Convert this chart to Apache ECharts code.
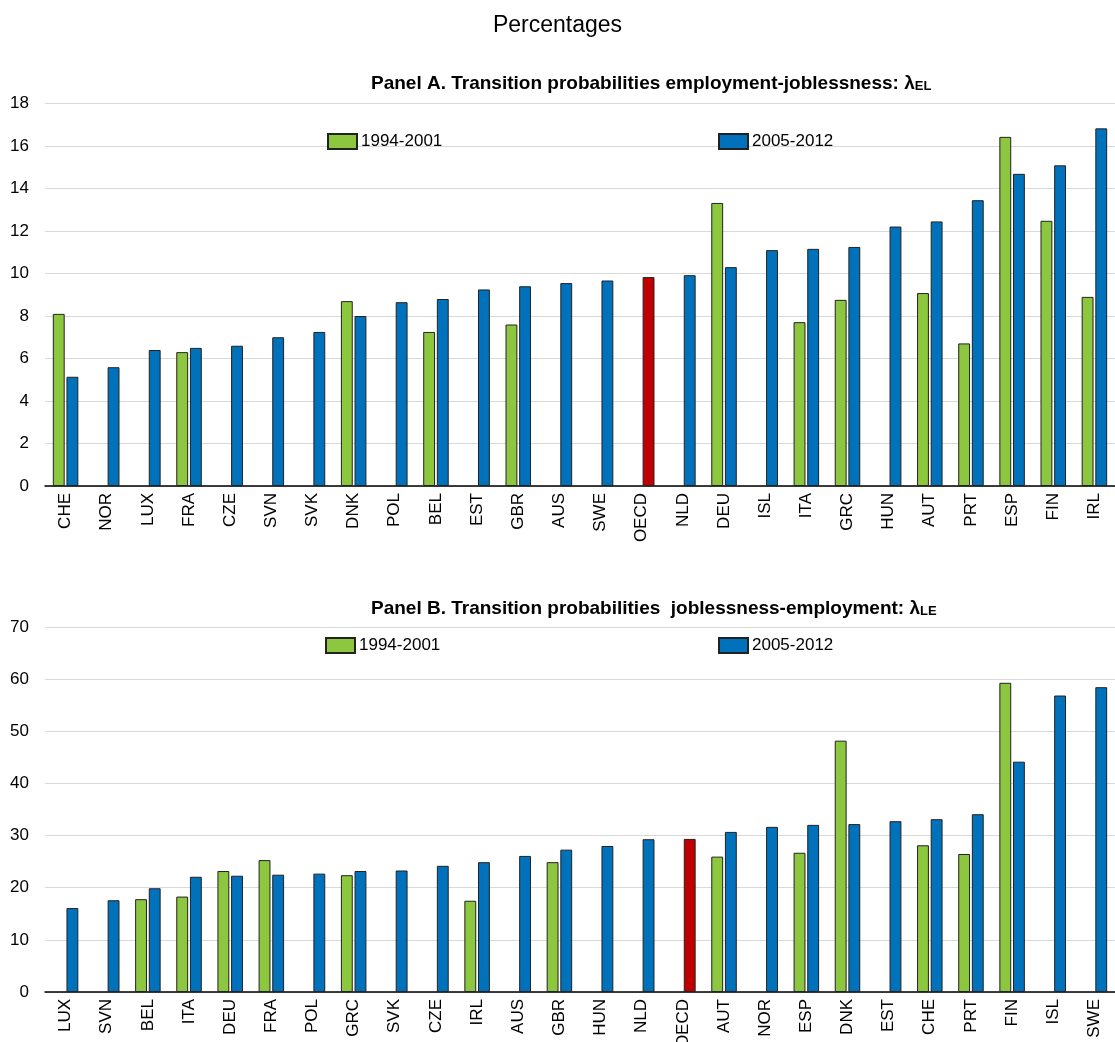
<!DOCTYPE html>
<html>
<head>
<meta charset="utf-8">
<script src="https://cdn.jsdelivr.net/npm/echarts@6/dist/echarts.min.js"></script>
<style>
html,body{margin:0;padding:0;background:#fff;}
#c{width:1115px;height:1042px;}
</style>
</head>
<body>
<div id="c"></div>
<script>
// Panel A: employment -> joblessness
const catsA = ['CHE','NOR','LUX','FRA','CZE','SVN','SVK','DNK','POL','BEL','EST','GBR','AUS','SWE','OECD','NLD','DEU','ISL','ITA','GRC','HUN','AUT','PRT','ESP','FIN','IRL'];
const earlyA = [8.1, null, null, 6.3, null, null, null, 8.7, null, 7.25, null, 7.6, null, null, null, null, 13.32, null, 7.71, 8.76, null, 9.08, 6.71, 16.43, 12.48, 8.9];
const lateA  = [5.14, 5.59, 6.4, 6.5, 6.6, 7.0, 7.25, 8.0, 8.65, 8.8, 9.25, 9.4, 9.55, 9.67, 9.83, 9.92, 10.3, 11.1, 11.16, 11.25, 12.21, 12.45, 13.45, 14.69, 15.09, 16.83];

// Panel B: joblessness -> employment
const catsB = ['LUX','SVN','BEL','ITA','DEU','FRA','POL','GRC','SVK','CZE','IRL','AUS','GBR','HUN','NLD','OECD','AUT','NOR','ESP','DNK','EST','CHE','PRT','FIN','ISL','SWE'];
const earlyB = [null, null, 17.8, 18.3, 23.2, 25.3, null, 22.4, null, null, 17.5, null, 24.9, null, null, null, 25.96, null, 26.7, 48.2, null, 28.14, 26.47, 59.3, null, null];
const lateB  = [16.1, 17.6, 19.9, 22.1, 22.3, 22.5, 22.7, 23.2, 23.3, 24.2, 24.9, 26.1, 27.3, 28.0, 29.3, 29.36, 30.7, 31.67, 32.05, 32.2, 32.76, 33.14, 34.1, 44.17, 56.86, 58.46];

const ticksA = {min: 0, max: 18, interval: 2};
const ticksB = {min: 0, max: 70, interval: 10};

const seriesNames = ['1994-2001', '2005-2012'];
const GREEN = '#8DC63F', BLUE = '#0072BC', RED = '#C00000';
const SANS = "'Liberation Sans',Arial,sans-serif";

function lateData(cats, vals){
  return vals.map((v,i)=> cats[i]==='OECD' ? {value:v, itemStyle:{color:RED}} : v);
}

const chart = echarts.init(document.getElementById('c'), null, {renderer:'canvas'});

const xAxisCommon = {
  type:'category',
  axisLine:{lineStyle:{color:'#000', width:1.5}},
  axisTick:{inside:true, length:5, lineStyle:{color:'#000', width:1.2}},
  axisLabel:{rotate:90, interval:0, margin:7, color:'#000', fontSize:17, fontFamily:SANS},
  splitLine:{show:false}
};
const yAxisCommon = {
  type:'value',
  axisLine:{show:false},
  axisTick:{show:false},
  axisLabel:{color:'#000', fontSize:17, fontFamily:SANS, margin:16},
  splitLine:{lineStyle:{color:'#d9d9d9', width:1.2}}
};
const barCommon = {
  type:'bar',
  barCategoryGap:'38%',
  barGap:'15%'
};
const titleRich = (label, sub) => ({
  text: '{m|' + label + '}{s|' + sub + '}',
  left: 366,
  textStyle:{
    rich:{
      m:{fontFamily:SANS, fontWeight:'bold', fontSize:19, color:'#000', verticalAlign:'bottom', lineHeight:22},
      s:{fontFamily:SANS, fontWeight:'bold', fontSize:13, color:'#000', verticalAlign:'bottom', lineHeight:19}
    }
  }
});

const tA = titleRich('Panel A. Transition probabilities employment-joblessness: λ', 'EL'); tA.top = 66;
const tB = titleRich('Panel B. Transition probabilities  joblessness-employment: λ', 'LE'); tB.top = 591;

const legendCommon = {
  orient:'horizontal', padding:0, itemWidth:29, itemHeight:15, itemGap:10,
  textStyle:{fontFamily:SANS, fontSize:17, color:'#000', padding:[0,0,0,-1]},
  icon:'rect', selectedMode:false
};

chart.setOption({
  animation:false,
  backgroundColor:'#fff',
  title:[
    {text:'Percentages', left:'center', top:9, textStyle:{fontFamily:SANS, fontWeight:'normal', fontSize:23, color:'#000'}},
    tA, tB
  ],
  legend:[
    Object.assign({}, legendCommon, {data:[seriesNames[0]], left:327, top:133}),
    Object.assign({}, legendCommon, {data:[seriesNames[1]], left:718, top:133}),
    Object.assign({}, legendCommon, {data:[seriesNames[0]], left:325, top:637}),
    Object.assign({}, legendCommon, {data:[seriesNames[1]], left:718, top:637})
  ],
  grid:[
    {left:45, right:0, top:103.5, height:382.5, containLabel:false, outerBoundsMode:'none'},
    {left:45, right:0, top:627, height:365, containLabel:false, outerBoundsMode:'none'}
  ],
  xAxis:[
    Object.assign({}, xAxisCommon, {gridIndex:0, data:catsA}),
    Object.assign({}, xAxisCommon, {gridIndex:1, data:catsB})
  ],
  yAxis:[
    Object.assign({}, yAxisCommon, {gridIndex:0}, ticksA),
    Object.assign({}, yAxisCommon, {gridIndex:1}, ticksB)
  ],
  series:[
    Object.assign({}, barCommon, {name:seriesNames[0], xAxisIndex:0, yAxisIndex:0, data:earlyA, itemStyle:{color:GREEN, borderColor:'#222', borderWidth:1}}),
    Object.assign({}, barCommon, {name:seriesNames[1], xAxisIndex:0, yAxisIndex:0, data:lateData(catsA, lateA), itemStyle:{color:BLUE, borderColor:'#222', borderWidth:1}}),
    Object.assign({}, barCommon, {name:seriesNames[0], xAxisIndex:1, yAxisIndex:1, data:earlyB, itemStyle:{color:GREEN, borderColor:'#222', borderWidth:1}}),
    Object.assign({}, barCommon, {name:seriesNames[1], xAxisIndex:1, yAxisIndex:1, data:lateData(catsB, lateB), itemStyle:{color:BLUE, borderColor:'#222', borderWidth:1}})
  ]
});
</script>
</body>
</html>
